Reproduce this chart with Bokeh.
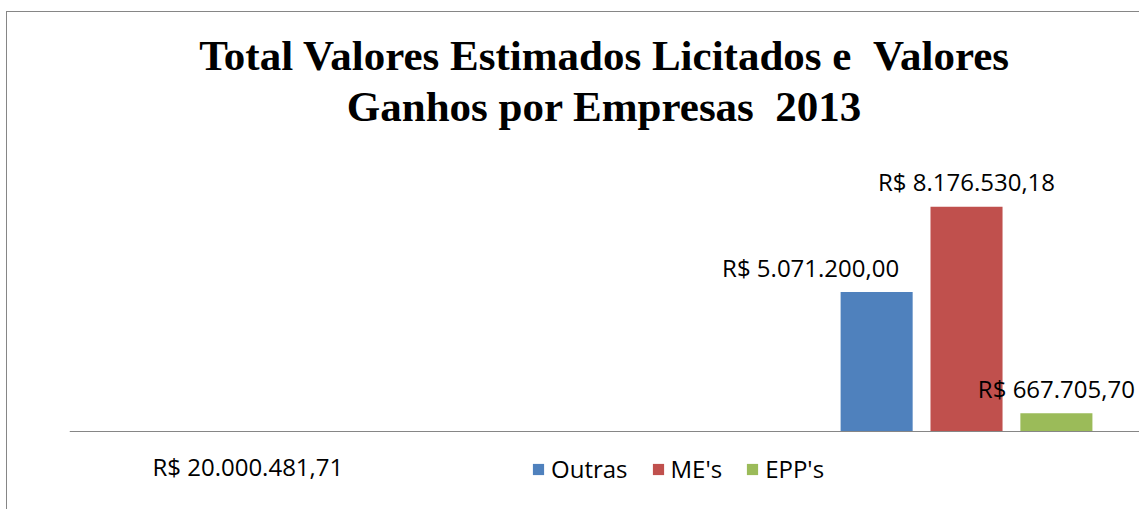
from bokeh.plotting import figure
from bokeh.models import ColumnDataSource, FactorRange, Range1d, Title, Legend, LegendItem, Span
from bokeh.transform import dodge
from bokeh.core.properties import value
from bokeh.embed import file_html
from bokeh.resources import INLINE

# ---- data ----
categories = ["R$ 20.000.481,71", " ", "  "]
bar_category = "  "
series = ["Outras", "ME's", "EPP's"]
values = [5071200.00, 8176530.18, 667705.70]
value_labels = ["R$ 5.071.200,00", "R$ 8.176.530,18", "R$ 667.705,70"]
title_text = "Total Valores Estimados Licitados e \u00a0Valores\nGanhos por Empresas \u00a02013"

# ---- style ----
colors = ["#4F81BD", "#C0504D", "#9BBB59"]
label_x_offsets = [-66, 0, 0]
group_shift = 0.015
group_step = 0.252
bar_width = 0.202
axis_gray = "#868686"
body_font = "Open Sans"
y_top = 10_000_000
y_bottom = -y_top * 78 / 275   # room below the baseline for category labels and legend

p = figure(
    x_range=FactorRange(factors=categories, range_padding=0),
    y_range=Range1d(y_bottom, y_top),
    width=1133, height=509,
    output_backend="svg", toolbar_location=None,
    min_border_left=63, min_border_right=0,
    min_border_top=156, min_border_bottom=0,
)
# chart-area border (left and top edges) drawn as CSS background lines
p.styles = {
    "margin-left": "6px",
    "background-color": "#ffffff",
    "background-image": f"linear-gradient({axis_gray}, {axis_gray}), linear-gradient({axis_gray}, {axis_gray})",
    "background-size": "100% 1px, 1px 100%",
    "background-position": "0 11px, 0 11px",
    "background-repeat": "no-repeat",
}
p.border_fill_color = None
p.background_fill_color = None
p.outline_line_color = None
p.xgrid.visible = False
p.ygrid.visible = False
p.yaxis.visible = False
p.xaxis.visible = False

# baseline (category axis line)
p.add_layout(Span(location=0, dimension="width", line_color=axis_gray, line_width=1))

# category labels
cat_src = ColumnDataSource(dict(cat=categories, y=[0] * len(categories)))
p.text(x="cat", y="y", text="cat", source=cat_src, text_align="center", text_baseline="top",
       y_offset=18, text_font=value(body_font), text_font_size="24px", text_color="#000000")

items = []
for i, name in enumerate(series):
    src = ColumnDataSource(dict(cat=[bar_category], val=[values[i]], lbl=[value_labels[i]]))
    off = group_shift + (i - 1) * group_step
    r = p.vbar(x=dodge("cat", off, range=p.x_range), top="val", width=bar_width,
               source=src, fill_color=colors[i], line_color=None)
    p.text(x=dodge("cat", off, range=p.x_range), y="val", text="lbl", source=src,
           text_align="center", text_baseline="alphabetic", y_offset=-25,
           x_offset=label_x_offsets[i],
           text_font=value(body_font), text_font_size="24px", text_color="#000000")
    items.append(LegendItem(label=name, renderers=[r]))

legend = Legend(items=items, orientation="horizontal", location=(462, 24),
                glyph_width=14, glyph_height=14, label_standoff=6, spacing=23,
                padding=0, margin=0, border_line_color=None, background_fill_alpha=0,
                label_text_font=body_font, label_text_font_size="24px",
                label_text_color="#000000")
p.add_layout(legend, "center")

title = Title(text=title_text, align="center", text_align="center",
              text_font="Liberation Serif", text_font_style="bold", text_font_size="43px",
              text_color="#000000", text_line_height=1.1, standoff=52)
p.add_layout(title, "above")

open("out.html", "w").write(file_html(p, INLINE))
